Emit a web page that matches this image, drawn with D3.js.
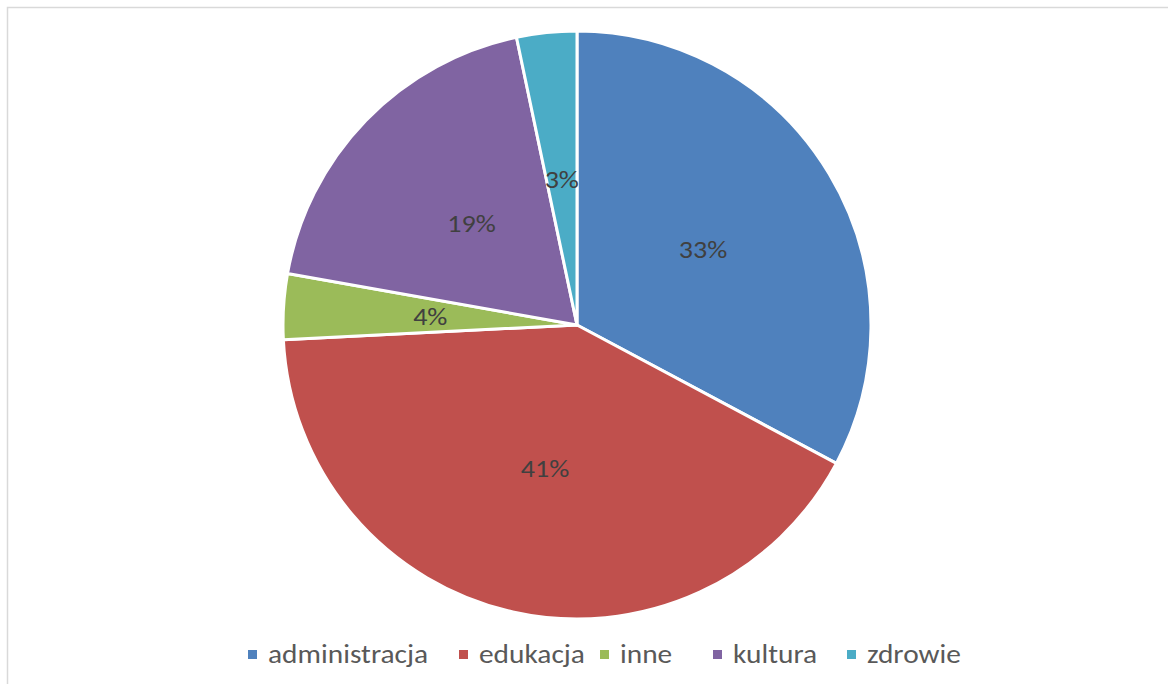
<!DOCTYPE html>
<html>
<head>
<meta charset="utf-8">
<script src="https://cdn.jsdelivr.net/npm/d3@7"></script>
<style>
html,body{margin:0;padding:0;background:#fff;}
svg{display:block;}
</style>
</head>
<body>
<svg id="chart" width="1168" height="684"></svg>
<script>
const categories = ["administracja", "edukacja", "inne", "kultura", "zdrowie"];
const values = [32.8, 41.4, 3.6, 18.9, 3.3];
const colors = ["#4F81BD", "#C0504D", "#9BBB59", "#8064A2", "#4BACC6"];

const svg = d3.select("#chart");
const font = "Carlito, Calibri, Lato, 'Open Sans', sans-serif";

// chart area border
svg.append("rect")
  .attr("x", 7.5).attr("y", 7.5)
  .attr("width", 1300).attr("height", 800)
  .attr("fill", "#fff")
  .attr("stroke", "#d9d9d9").attr("stroke-width", 1.5);

const cx = 577, cy = 325, R = 294;
const total = d3.sum(values);
const data = categories.map((c, i) => ({cat: c, value: values[i], color: colors[i]}));

const pie = d3.pie().value(d => d.value).sort(null);
const arc = d3.arc().innerRadius(0).outerRadius(R);
const labelArc = d3.arc().innerRadius(R * 0.5).outerRadius(R * 0.5);

const g = svg.append("g").attr("transform", `translate(${cx},${cy})`);
const arcs = pie(data);

g.selectAll("path.slice").data(arcs).enter().append("path")
  .attr("class", "slice")
  .attr("d", arc)
  .attr("fill", d => d.data.color)
  .attr("stroke", "#fff")
  .attr("stroke-width", 3)
  .attr("stroke-linejoin", "round");

g.selectAll("text.lbl").data(arcs).enter().append("text")
  .attr("class", "lbl")
  .attr("transform", d => `translate(${labelArc.centroid(d)}) scale(1.1,1)`)
  .attr("text-anchor", "middle")
  .attr("dy", "0.35em")
  .attr("font-family", font)
  .attr("font-size", 25.5)
  .attr("fill", "#404040")
  .text(d => Math.round(d.data.value / total * 100) + "%");

// legend
const legendX = [248, 459, 600, 713, 847];
const leg = svg.append("g");
const items = leg.selectAll("g.item").data(data).enter().append("g")
  .attr("class", "item")
  .attr("transform", (d, i) => `translate(${legendX[i]},655)`);
items.append("rect")
  .attr("x", 0).attr("y", -5).attr("width", 9).attr("height", 9)
  .attr("fill", d => d.color);
items.append("text")
  .attr("transform", "translate(20,8) scale(1.13,1)")
  .attr("font-family", font)
  .attr("font-size", 26)
  .attr("fill", "#595959")
  .text(d => d.cat);
</script>
</body>
</html>
